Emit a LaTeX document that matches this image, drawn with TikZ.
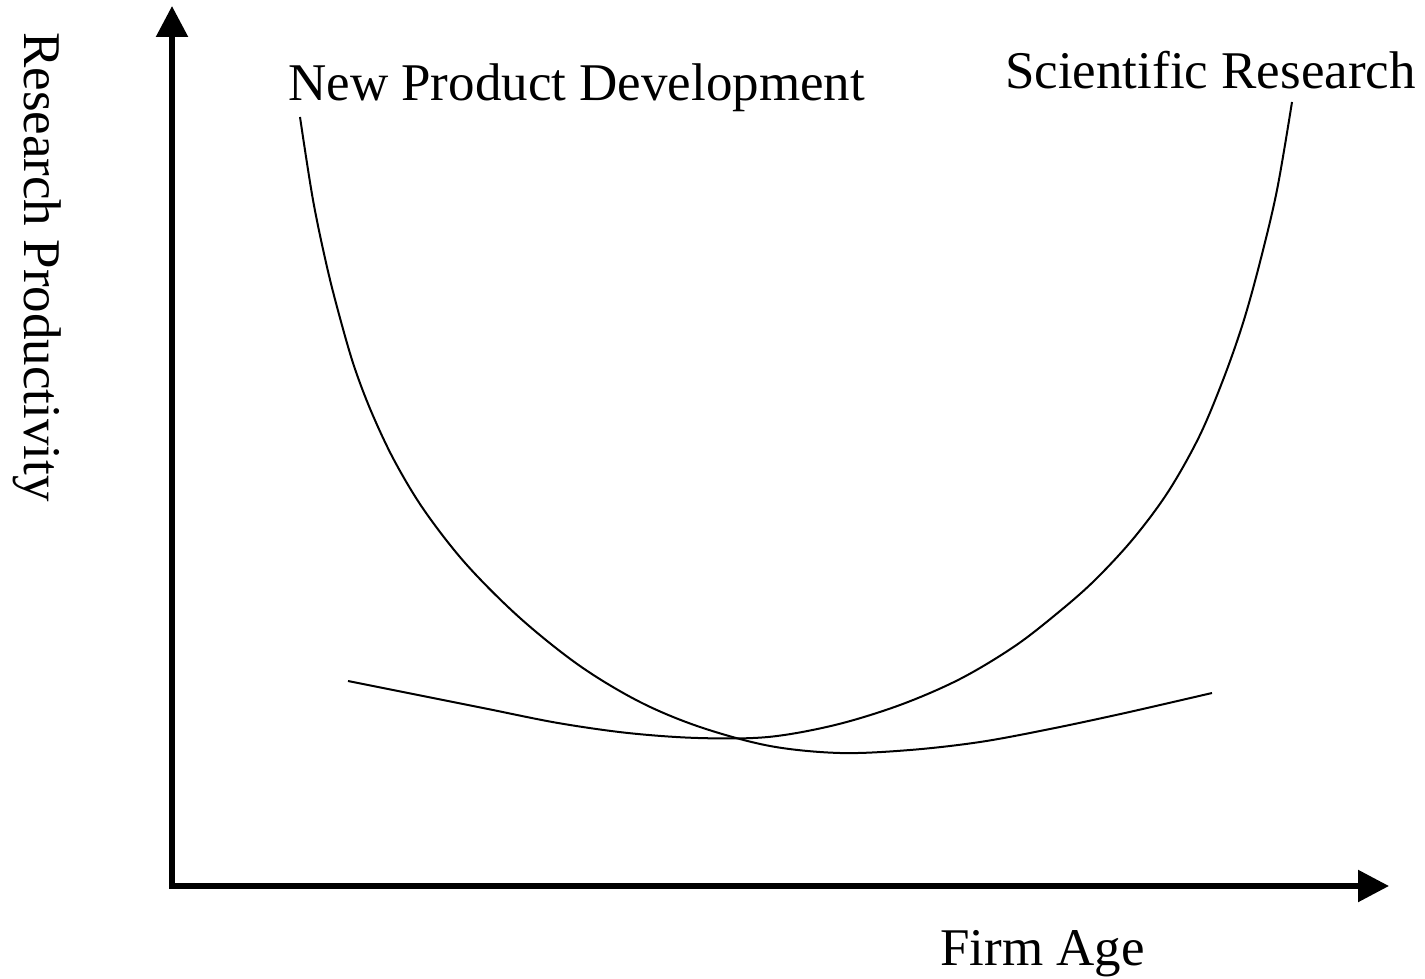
\documentclass[tikz,border=0pt]{standalone}
\usepackage{fontspec}
\setmainfont{Liberation Serif}
\usetikzlibrary{arrows.meta}
\tikzset{
  axis/.style={line width=5.5pt, line join=miter, {Triangle[length=31pt,width=31pt]}-{Triangle[length=31pt,width=31pt]}},
  curve/.style={line width=2pt, smooth, tension=0.55},
  lbl/.style={inner sep=0pt, font=\fontsize{53}{60}\selectfont}
}
\begin{document}
\begin{tikzpicture}[x=1pt,y=-1pt]
\useasboundingbox[fill=white] (0,0) rectangle (1425,979);
\coordinate (ytip) at (172,6);
\coordinate (O) at (172,886);
\coordinate (xtip) at (1389,886);
\draw[axis] (ytip) -- (O) -- (xtip);
% New Product Development curve
\draw[curve] plot coordinates {(300,117) (313,200) (327,267) (340,318) (354,366) (371,411) (394,460) (424,510) (466,564) (520,618) (580,666) (640,702) (700,727) (770,746) (840,753) (910,750) (980,742) (1050,729) (1125,713) (1212,693)};
% Scientific Research curve
\draw[curve] plot coordinates {(348,681) (418,695) (488,709) (558,723) (628,733) (698,738) (768,737) (835,725) (900,705) (960,679) (1015,646) (1060,611) (1095,580) (1133,539) (1168,492) (1199,437) (1223,380) (1243,323) (1260,262) (1277,190) (1292,102)};
\node[lbl, anchor=base west] (npd) at (288,101) {New Product Development};
\node[lbl, anchor=base west] (sr) at (1005,89) {Scientific Research};
\node[lbl, anchor=base west] (fa) at (940,965) {Firm Age};
\node[lbl, anchor=base west, rotate=-90] (rp) at (24,32) {Research Productivity};
\end{tikzpicture}
\end{document}
